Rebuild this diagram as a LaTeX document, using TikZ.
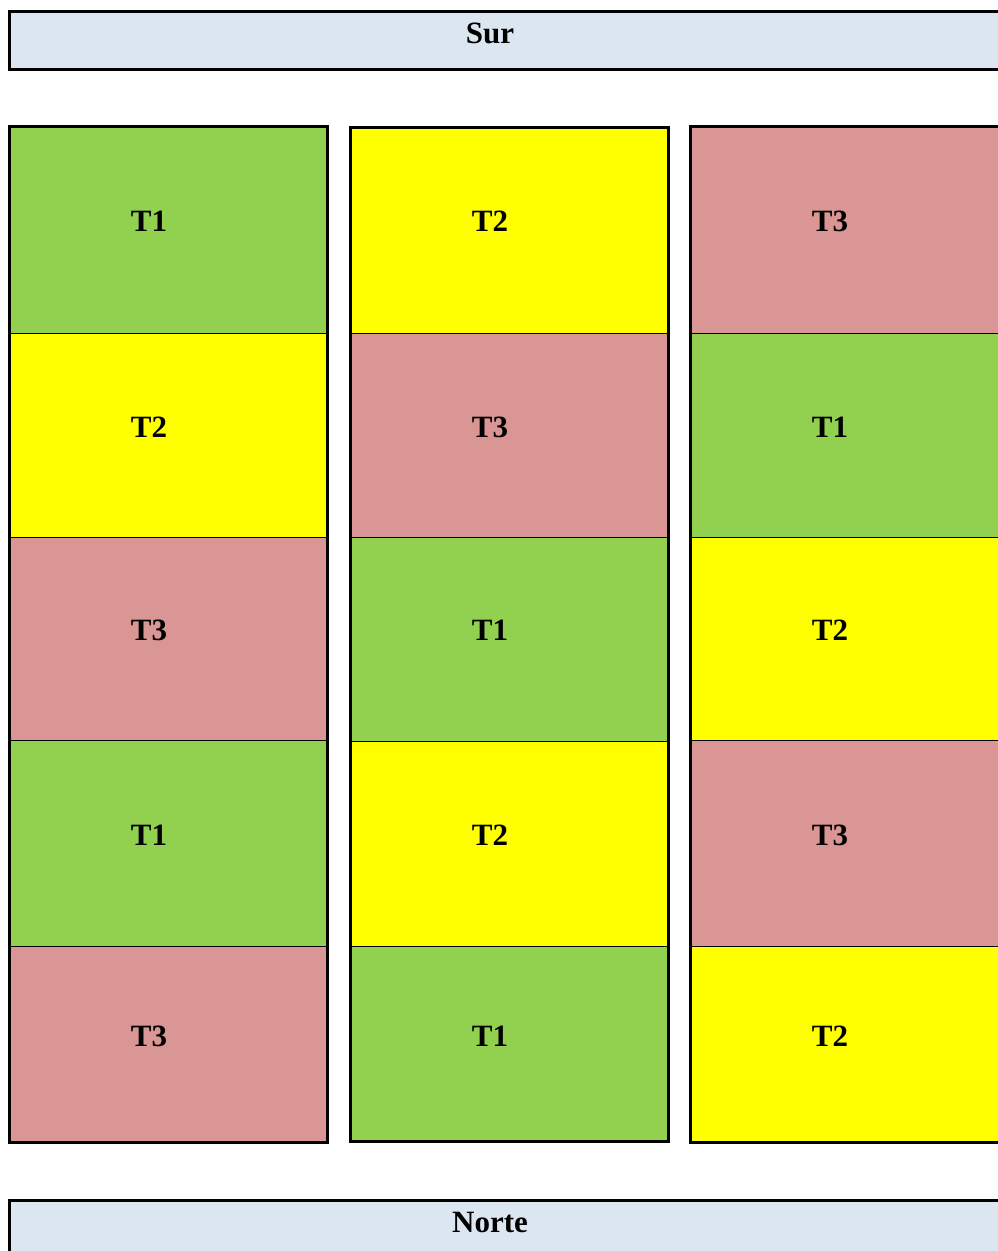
\documentclass[tikz,border=0pt]{standalone}
\usepackage{fontspec}
\setmainfont{Liberation Serif}
\definecolor{cgreen}{HTML}{92D050}
\definecolor{cyellow}{HTML}{FFFF00}
\definecolor{cpink}{HTML}{DA9694}
\definecolor{cblue}{HTML}{DCE6F1}
\tikzset{
  band/.style={fill=cblue, draw=black, line width=3pt},
  cell/.style={draw=black, line width=1pt},
  colframe/.style={draw=black, line width=3pt},
  lbl/.style={font=\bfseries\fontsize{31}{34}\selectfont, inner sep=0pt, anchor=base},
  T1/.style={cell, fill=cgreen},
  T2/.style={cell, fill=cyellow},
  T3/.style={cell, fill=cpink}
}
\begin{document}
\begin{tikzpicture}[x=1pt,y=-1pt]
\useasboundingbox (0,0) rectangle (997,1251);
\fill[white] (0,0) rectangle (997,1251);
% bands
\draw[band] (9.5,11.5) rectangle (1010,69.5);
\node[lbl] (sur) at (490,43) {Sur};
\draw[band] (9.5,1200.5) rectangle (1010,1270);
\node[lbl] (norte) at (490,1232) {Norte};
% column 1
\draw[T1] (9.5,126) rectangle (327.5,333);
\draw[T2] (9.5,333) rectangle (327.5,537);
\draw[T3] (9.5,537) rectangle (327.5,740);
\draw[T1] (9.5,740) rectangle (327.5,946);
\draw[T3] (9.5,946) rectangle (327.5,1142.5);
\draw[colframe] (9.5,126) rectangle (327.5,1142.5);
% column 2
\draw[T2] (350.5,127) rectangle (668.5,333);
\draw[T3] (350.5,333) rectangle (668.5,537);
\draw[T1] (350.5,537) rectangle (668.5,741);
\draw[T2] (350.5,741) rectangle (668.5,946);
\draw[T1] (350.5,946) rectangle (668.5,1141);
\draw[colframe] (350.5,127) rectangle (668.5,1141);
% column 3
\draw[T3] (690.5,126) rectangle (1010,333);
\draw[T1] (690.5,333) rectangle (1010,537);
\draw[T2] (690.5,537) rectangle (1010,740);
\draw[T3] (690.5,740) rectangle (1010,946);
\draw[T2] (690.5,946) rectangle (1010,1142.5);
\draw[colframe] (690.5,126) rectangle (1010,1142.5);
% labels
\node[lbl] (a1) at (149,231) {T1};
\node[lbl] (a2) at (149,437) {T2};
\node[lbl] (a3) at (149,640) {T3};
\node[lbl] (a4) at (149,845) {T1};
\node[lbl] (a5) at (149,1046) {T3};
\node[lbl] (b1) at (490,231) {T2};
\node[lbl] (b2) at (490,437) {T3};
\node[lbl] (b3) at (490,640) {T1};
\node[lbl] (b4) at (490,845) {T2};
\node[lbl] (b5) at (490,1046) {T1};
\node[lbl] (c1) at (830,231) {T3};
\node[lbl] (c2) at (830,437) {T1};
\node[lbl] (c3) at (830,640) {T2};
\node[lbl] (c4) at (830,845) {T3};
\node[lbl] (c5) at (830,1046) {T2};
\end{tikzpicture}
\end{document}
